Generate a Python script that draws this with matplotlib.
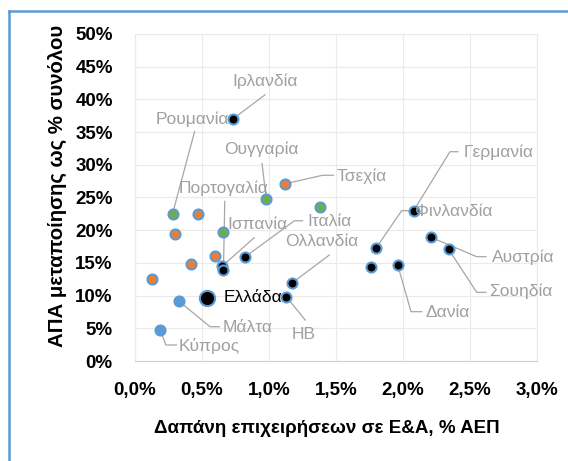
import matplotlib
matplotlib.use("Agg")
import matplotlib.pyplot as plt
from matplotlib.lines import Line2D

# Χώρες με ετικέτα (μαύρο κέντρο)
chores = ["Ιρλανδία", "Γερμανία", "Φινλανδία", "Αυστρία", "Σουηδία", "Δανία",
          "", "ΗΒ", "Ολλανδία", "Ιταλία", "Ισπανία", "Πορτογαλία"]
dapani = [0.73, 2.08, 1.80, 2.21, 2.34, 1.96, 1.76, 1.13, 1.17, 0.82, 0.65, 0.66]
apa = [37.0, 23.0, 17.3, 18.9, 17.1, 14.7, 14.4, 9.8, 11.9, 15.9, 14.5, 13.9]

# Ελλάδα
ellada_x = [0.54]
ellada_y = [9.6]

# Πράσινα σημεία
prasina_onoma = ["Ρουμανία", "Ουγγαρία", "", ""]
prasina_x = [0.28, 0.98, 0.66, 1.38]
prasina_y = [22.5, 24.7, 19.8, 23.5]

# Πορτοκαλί σημεία
portokali_onoma = ["Τσεχία", "", "", "", "", ""]
portokali_x = [1.12, 0.47, 0.30, 0.60, 0.42, 0.13]
portokali_y = [27.1, 22.5, 19.4, 16.0, 14.9, 12.5]

# Μπλε σημεία
mple_onoma = ["Μάλτα", "Κύπρος"]
mple_x = [0.33, 0.19]
mple_y = [9.1, 4.7]

# Θέσεις ετικετών και γραμμών οδηγών (κέντρο κειμένου, ενδιάμεσα σημεία)
etiketes = {
    "Ιρλανδία": ((0.97, 42.7), [(0.97, 40.7)]),
    "Ρουμανία": ((0.43, 37.0), [(0.445, 35.1)]),
    "Ουγγαρία": ((0.94, 32.4), [(0.948, 30.2)]),
    "Πορτογαλία": ((0.66, 26.4), [(0.67, 24.4)]),
    "Ισπανία": ((0.91, 20.9), [(0.89, 18.85)]),
    "Ιταλία": ((1.45, 21.3), [(1.19, 21.45), (1.25, 21.45)]),
    "Ολλανδία": ((1.39, 18.2), [(1.45, 16.2)]),
    "Τσεχία": ((1.69, 28.2), [(1.40, 28.4), (1.48, 28.4)]),
    "Γερμανία": ((2.71, 31.85), [(2.35, 32.0), (2.41, 32.0)]),
    "Φινλανδία": ((2.38, 22.8), [(1.99, 22.98), (2.07, 22.98)]),
    "Αυστρία": ((2.895, 15.9), [(2.55, 15.95), (2.62, 15.95)]),
    "Σουηδία": ((2.88, 10.6), [(2.55, 10.5), (2.62, 10.5)]),
    "Δανία": ((2.33, 7.4), [(2.06, 7.54), (2.14, 7.54)]),
    "ΗΒ": ((1.26, 4.0), [(1.27, 6.27)]),
    "Μάλτα": ((0.84, 5.1), [(0.56, 5.24), (0.63, 5.24)]),
    "Κύπρος": ((0.55, 2.3), [(0.23, 2.45), (0.31, 2.45)]),
}

grammatoseira = ["Liberation Sans", "DejaVu Sans"]

fig = plt.figure(figsize=(5.68, 4.61), dpi=100)
ax = fig.add_axes([135 / 568, 100 / 461, 402 / 568, 327 / 461])

ax.set_xlim(0, 3.0)
ax.set_ylim(0, 50)
ax.set_xticks([0, 0.5, 1.0, 1.5, 2.0, 2.5, 3.0])
ax.set_yticks(range(0, 51, 5))
ax.set_xticklabels([f"{v:.1f}%".replace(".", ",") for v in ax.get_xticks()])
ax.set_yticklabels([f"{v}%" for v in range(0, 51, 5)])
ax.grid(True, color="#EAEAEA", linewidth=0.8)
ax.set_axisbelow(True)
for s in ax.spines.values():
    s.set_color("#EAEAEA")
ax.spines["bottom"].set_color("#D0D0D0")
ax.tick_params(length=0, labelsize=13.5)
ax.tick_params(axis="x", pad=15)
ax.tick_params(axis="y", pad=16)
for t in ax.get_xticklabels() + ax.get_yticklabels():
    t.set_fontweight("bold")
    t.set_family(grammatoseira)

# γραμμές οδηγοί και ετικέτες
simeia = {}
for n, x, y in zip(chores, dapani, apa):
    simeia[n] = (x, y)
for n, x, y in zip(prasina_onoma + portokali_onoma + mple_onoma,
                   prasina_x + portokali_x + mple_x,
                   prasina_y + portokali_y + mple_y):
    if n:
        simeia[n] = (x, y)
for n, (thesi, diadromi) in etiketes.items():
    x0, y0 = simeia[n]
    xs = [x0] + [p[0] for p in diadromi]
    ys = [y0] + [p[1] for p in diadromi]
    ax.plot(xs, ys, color="#A6A6A6", linewidth=0.9, zorder=2)
    ax.text(thesi[0], thesi[1], n, color="#A0A0A0", fontsize=12.5,
            family=grammatoseira, ha="center", va="center", zorder=4)

akri = "#5B9BD5"
ax.scatter(portokali_x, portokali_y, s=52, color="#ED7D31", edgecolor=akri, linewidth=1.5, zorder=3)
ax.scatter(prasina_x, prasina_y, s=52, color="#70AD47", edgecolor=akri, linewidth=1.5, zorder=3)
ax.scatter(mple_x, mple_y, s=52, color="#5B9BD5", edgecolor=akri, linewidth=1.5, zorder=3)
ax.scatter(dapani, apa, s=52, color="black", edgecolor=akri, linewidth=1.5, zorder=3)
ax.scatter(ellada_x, ellada_y, s=120, color="black", edgecolor=akri, linewidth=1.5, zorder=3)
ax.text(0.88, 9.7, "Ελλάδα", color="black", fontsize=12.5,
        family=grammatoseira, ha="center", va="center", zorder=4)

fig.text(57 / 568, 1 - 186 / 461, "ΑΠΑ μεταποίησης ως % συνόλου", rotation=90,
         ha="center", va="center", fontsize=14.7, fontweight="bold",
         family=grammatoseira)
fig.text(327 / 568, 1 - 428 / 461, "Δαπάνη επιχειρήσεων σε Ε&Α, % ΑΕΠ",
         ha="center", va="center", fontsize=13.5, fontweight="bold",
         family=grammatoseira)

# μπλε πλαίσιο
fig.add_artist(Line2D([9 / 568, 9 / 568], [0, 1 - 11 / 461], color="#5B9BD5", linewidth=1.8))
fig.add_artist(Line2D([9 / 568, 1], [1 - 11 / 461, 1 - 11 / 461], color="#5B9BD5", linewidth=1.8))

plt.savefig("out.png", dpi=100)
